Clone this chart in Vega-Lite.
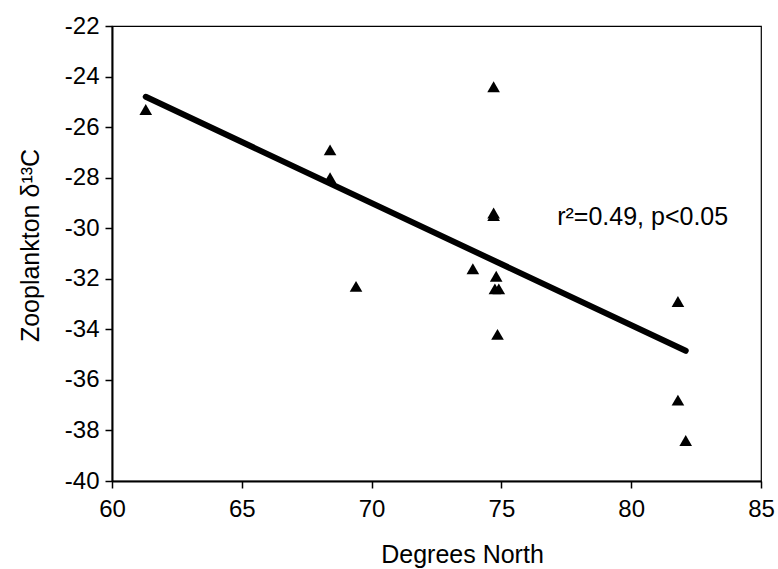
{
  "$schema": "https://vega.github.io/schema/vega-lite/v6.json",
  "autosize": "none",
  "padding": {"left": 112, "top": 26, "right": 17, "bottom": 88},
  "width": 649,
  "height": 455,
  "background": "white",
  "config": {
    "font": "Liberation Sans",
    "view": {"stroke": "black", "strokeWidth": 1.2},
    "axis": {
      "grid": false,
      "domainColor": "black",
      "domainWidth": 2,
      "tickColor": "black",
      "tickWidth": 1.5,
      "tickSize": 7,
      "labelColor": "black",
      "titleColor": "black",
      "labelFont": "Liberation Sans",
      "titleFont": "Liberation Sans",
      "labelFontSize": 24,
      "titleFontSize": 25,
      "titleFontWeight": "normal",
      "labelFlush": false,
      "labelOverlap": false
    }
  },
  "datasets": {
    "pts": [
      {"lat": 61.3, "d13c": -25.3},
      {"lat": 68.4, "d13c": -26.9},
      {"lat": 68.4, "d13c": -28.0},
      {"lat": 69.4, "d13c": -32.3},
      {"lat": 74.7, "d13c": -24.4},
      {"lat": 74.7, "d13c": -29.4},
      {"lat": 74.7, "d13c": -29.5},
      {"lat": 73.9, "d13c": -31.6},
      {"lat": 74.8, "d13c": -31.9},
      {"lat": 74.75, "d13c": -32.4},
      {"lat": 74.9, "d13c": -32.4},
      {"lat": 74.85, "d13c": -34.2},
      {"lat": 81.8, "d13c": -32.9},
      {"lat": 81.8, "d13c": -36.8},
      {"lat": 82.1, "d13c": -38.4}
    ],
    "fit": [
      {"lat": 61.3, "d13c": -24.8},
      {"lat": 82.1, "d13c": -34.85}
    ],
    "note": [
      {"lat": 77.15, "d13c": -29.55, "label": "r²=0.49, p<0.05"}
    ]
  },
  "layer": [
    {
      "data": {"name": "fit"},
      "mark": {"type": "line", "color": "black", "strokeWidth": 6, "strokeCap": "round"},
      "encoding": {
        "x": {
          "field": "lat", "type": "quantitative",
          "scale": {"domain": [60, 85], "nice": false, "zero": false},
          "axis": {"values": [60, 65, 70, 75, 80, 85], "title": "Degrees North", "labelPadding": 9, "titleX": 350, "titleY": 73, "titleBaseline": "middle", "titleAlign": "center"}
        },
        "y": {
          "field": "d13c", "type": "quantitative",
          "scale": {"domain": [-40, -22], "nice": false, "zero": false},
          "axis": {"values": [-40, -38, -36, -34, -32, -30, -28, -26, -24, -22], "labelExpr": "datum.value < 0 ? '-' + abs(datum.value) : '' + datum.value", "title": "Zooplankton δ¹³C", "labelPadding": 6, "titleX": -82, "titleY": 219, "titleAngle": -90, "titleBaseline": "middle", "titleAlign": "center"}
        }
      }
    },
    {
      "data": {"name": "pts"},
      "mark": {"type": "point", "shape": "triangle-up", "filled": true, "color": "black", "opacity": 1, "size": 160},
      "encoding": {
        "x": {"field": "lat", "type": "quantitative"},
        "y": {"field": "d13c", "type": "quantitative"}
      }
    },
    {
      "data": {"name": "note"},
      "mark": {"type": "text", "align": "left", "baseline": "middle", "fontSize": 25, "color": "black", "font": "Liberation Sans"},
      "encoding": {
        "x": {"field": "lat", "type": "quantitative"},
        "y": {"field": "d13c", "type": "quantitative"},
        "text": {"field": "label"}
      }
    }
  ]
}
